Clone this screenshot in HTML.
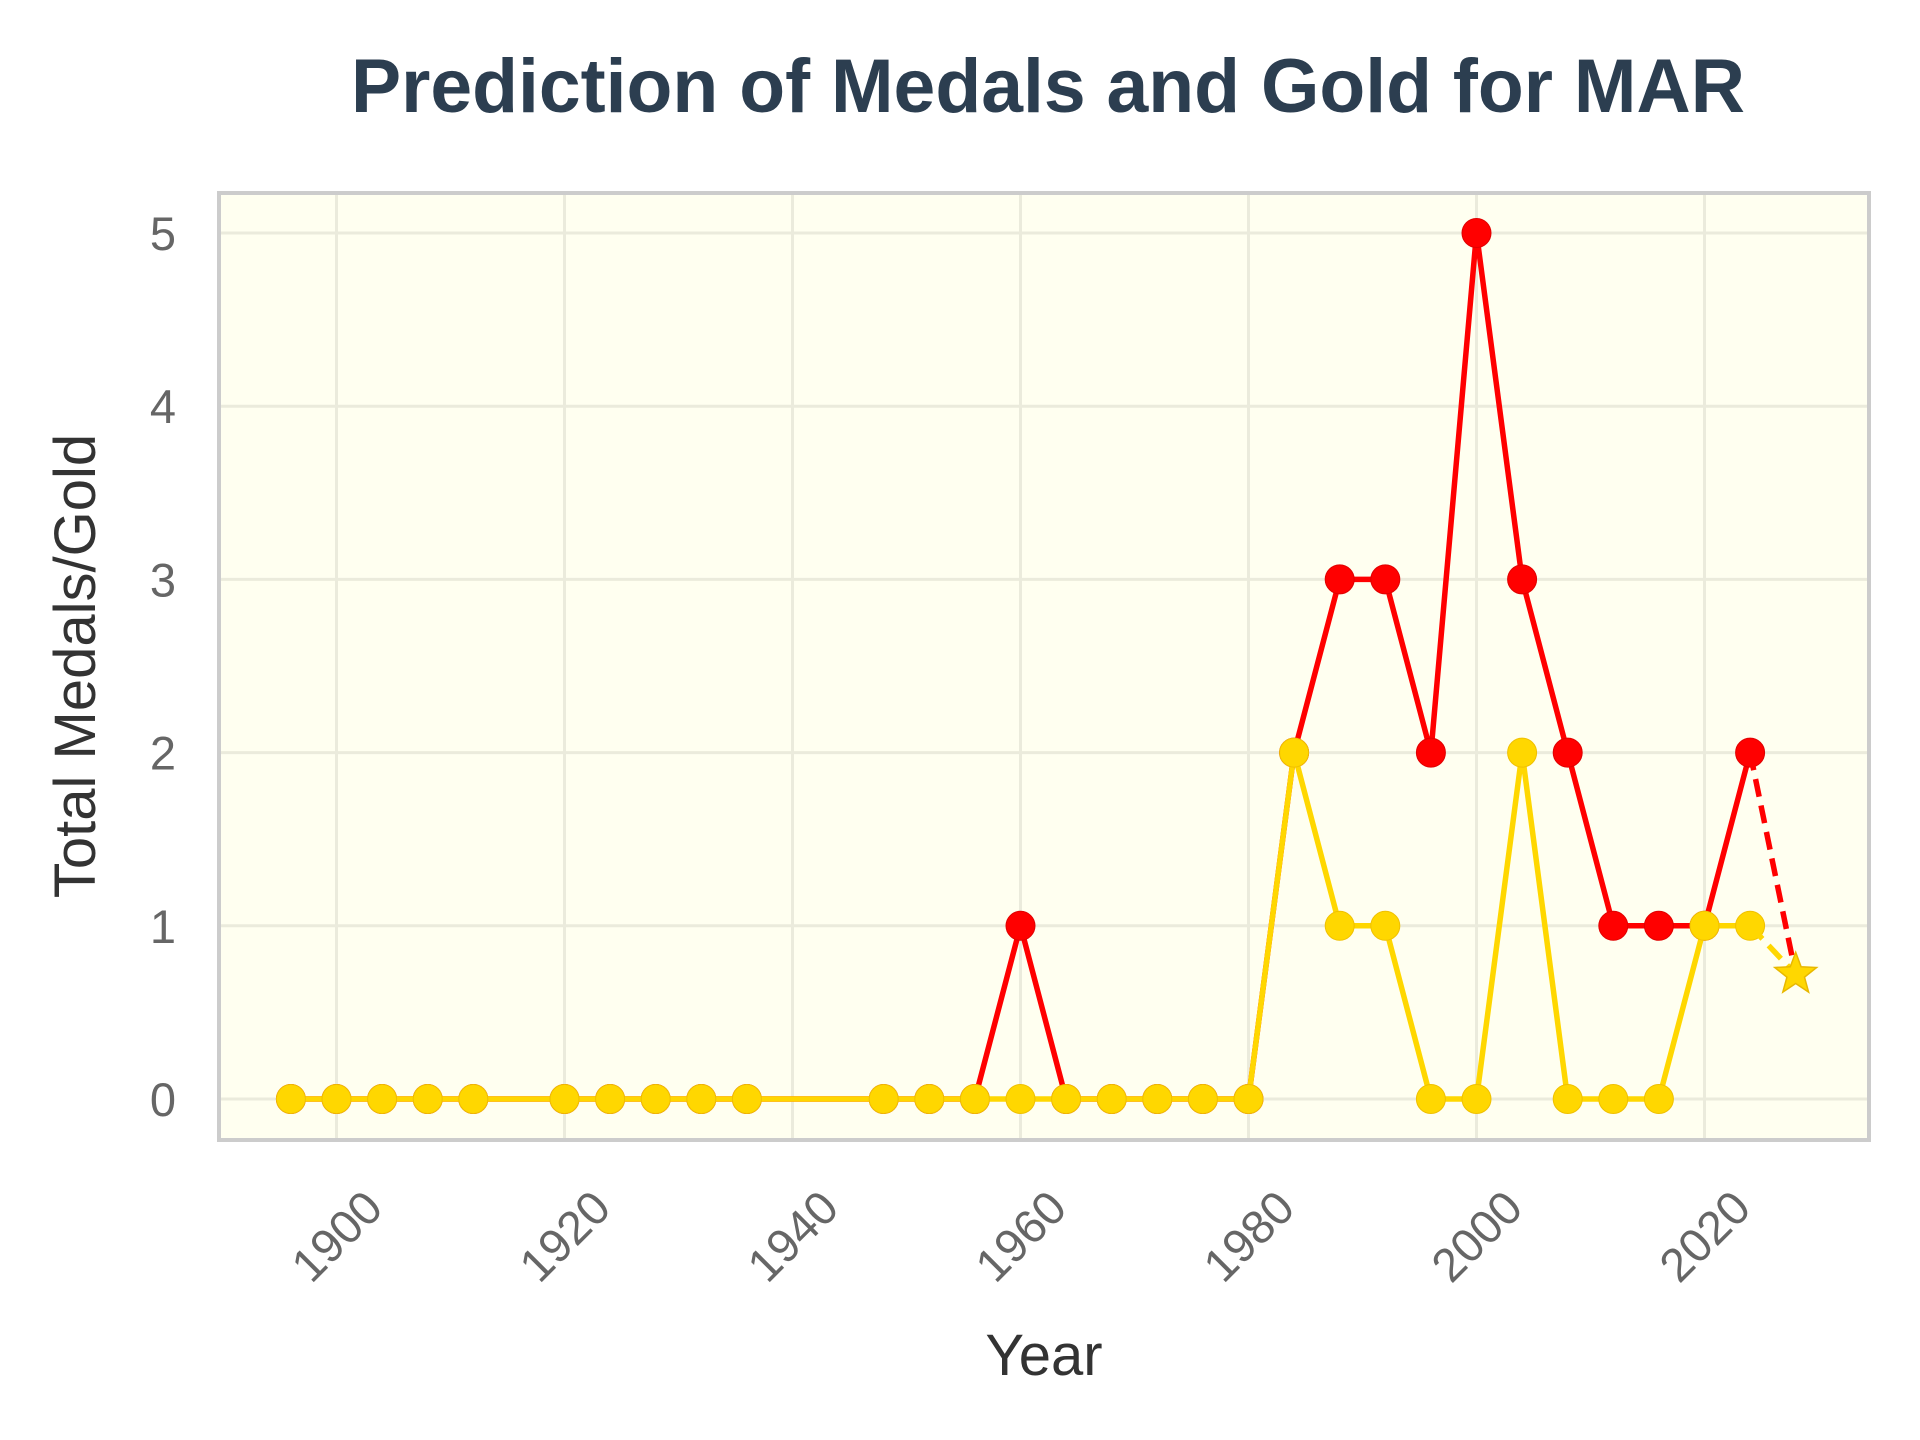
<!DOCTYPE html>
<html><head><meta charset="utf-8"><style>
html,body{margin:0;padding:0;background:#fff;}
svg{display:block;font-family:"Liberation Sans",sans-serif;}
</style></head><body>
<svg id="chart" width="1920" height="1440" viewBox="0 0 1920 1440" xmlns="http://www.w3.org/2000/svg">
<text x="1048" y="112" text-anchor="middle" font-size="76" font-weight="bold" fill="#2c3e50" textLength="1394" lengthAdjust="spacingAndGlyphs">Prediction of Medals and Gold for MAR</text>
<rect x="219" y="193" width="1650" height="947" fill="#fffff0" stroke="#cccccc" stroke-width="4"/>
<g id="grid"></g>
<g id="ticks"></g>
<g id="series"></g>
<text x="0" y="0" transform="translate(95,666) rotate(-90)" text-anchor="middle" font-size="58" fill="#333333">Total Medals/Gold</text>
<text x="1044" y="1375" text-anchor="middle" font-size="58" fill="#333333">Year</text>
</svg>
<script>
const years = [1896,1900,1904,1908,1912,1920,1924,1928,1932,1936,1948,1952,1956,1960,1964,1968,1972,1976,1980,1984,1988,1992,1996,2000,2004,2008,2012,2016,2020,2024];
const totalMedals = [0,0,0,0,0,0,0,0,0,0,0,0,0,1,0,0,0,0,0,2,3,3,2,5,3,2,1,1,1,2];
const goldMedals = [0,0,0,0,0,0,0,0,0,0,0,0,0,0,0,0,0,0,0,2,1,1,0,0,2,0,0,0,1,1];
const predYear = 2028;
const predTotal = 0.72;
const predGold = 0.72;
const xTicks = [1900,1920,1940,1960,1980,2000,2020];
const yTicks = [0,1,2,3,4,5];

const NS = "http://www.w3.org/2000/svg";
function xs(v){ return 336.5 + (v - 1900) * 11.4; }
function ys(v){ return 1099 - v * 173.2; }
function mk(tag, attrs, parent){
  const e = document.createElementNS(NS, tag);
  for (const k in attrs) e.setAttribute(k, attrs[k]);
  parent.appendChild(e);
  return e;
}
const grid = document.getElementById('grid');
const ticks = document.getElementById('ticks');
const series = document.getElementById('series');

xTicks.forEach(t => {
  const l = mk('line', {x1: xs(t), x2: xs(t), y1: 195, y2: 1138, stroke: '#ebebdc', 'stroke-width': 3}, grid);
  
  
  const tx = mk('text', {x: 0, y: 0, transform: 'translate(' + xs(t) + ',1236) rotate(-45)', 'text-anchor': 'middle', 'dominant-baseline': 'central', 'font-size': 47, fill: '#666666'}, ticks);
  tx.textContent = t;
  
  
});
yTicks.forEach(t => {
  const l = mk('line', {x1: 221, x2: 1867, y1: ys(t), y2: ys(t), stroke: '#ebebdc', 'stroke-width': 3}, grid);
  
  
  const tx = mk('text', {x: 176, y: ys(t) + 17, 'text-anchor': 'end', 'font-size': 47, fill: '#666666'}, ticks);
  tx.textContent = t;
  
  
});

function drawSeries(vals, color, edge, name, pred){
  const pts = years.map((y, i) => xs(y) + ',' + ys(vals[i])).join(' ');
  const pl = mk('polyline', {points: pts, fill: 'none', stroke: color, 'stroke-width': 5.5, 'stroke-linejoin': 'round'}, series);
  
  
  years.forEach((y, i) => {
    const c = mk('circle', {cx: xs(y), cy: ys(vals[i]), r: 14.5, fill: color, stroke: edge, 'stroke-width': 1}, series);
    
    
  });
  const last = years.length - 1;
  const d = mk('line', {x1: xs(years[last]), y1: ys(vals[last]), x2: xs(predYear), y2: ys(pred), stroke: color, 'stroke-width': 5.5, 'stroke-dasharray': '18,9'}, series);
  
  
}
drawSeries(totalMedals, '#ff0000', '#e00000', 'total-medals', predTotal);
drawSeries(goldMedals, '#ffd700', '#f0c000', 'gold-medals', predGold);

function star(cx, cy, R){
  const r = R * 0.42; let p = [];
  for (let i = 0; i < 10; i++) {
    const a = -Math.PI / 2 + i * Math.PI / 5;
    const rr = i % 2 ? r : R;
    p.push((cx + rr * Math.cos(a)).toFixed(1) + ',' + (cy + rr * Math.sin(a)).toFixed(1));
  }
  return p.join(' ');
}
const st = mk('polygon', {points: star(xs(predYear), ys(predGold), 22), fill: '#ffd700', stroke: '#e8b800', 'stroke-width': 1.5}, series);


</script>
</body></html>
